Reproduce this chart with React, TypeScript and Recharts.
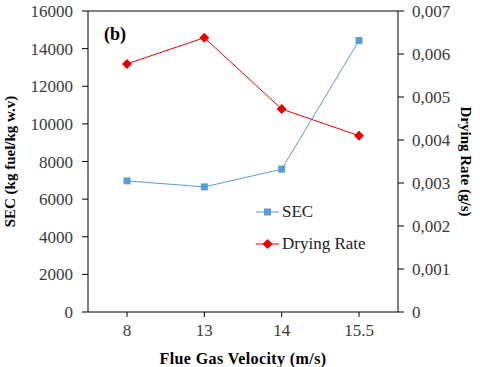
import { Line, LineChart, ReferenceLine, XAxis, YAxis } from "recharts";

const velocities = ["8", "13", "14", "15.5"];
const secValues = [6970, 6650, 7590, 14430];
const dryingRates = [0.00577, 0.00638, 0.00472, 0.0041];
const secTicks = [0, 2000, 4000, 6000, 8000, 10000, 12000, 14000, 16000];
const rateTicks = [0, 0.001, 0.002, 0.003, 0.004, 0.005, 0.006, 0.007];

const data = velocities.map((v, i) => ({ v, sec: secValues[i], rate: dryingRates[i] }));

const FONT = "Liberation Serif";
const BLUE = "#5b9bd5";
const RED = "#e60000";
const TICK = { fill: "#3a3a3a", fontSize: 17, fontFamily: FONT };

const Square = (props: any) => {
  const { cx, cy } = props;
  return <rect x={cx - 3.5} y={cy - 3.5} width={7} height={7} fill={BLUE} />;
};

const Diamond = (props: any) => {
  const { cx, cy } = props;
  return <path d={`M${cx},${cy - 5}L${cx + 5},${cy}L${cx},${cy + 5}L${cx - 5},${cy}Z`} fill={RED} />;
};

function LegendBox() {
  const rows = [
    { name: "SEC", color: BLUE, marker: <rect x={8} y={-3.5} width={7} height={7} fill={BLUE} /> },
    {
      name: "Drying Rate",
      color: RED,
      marker: <path d="M11.5,-5L16.5,0L11.5,5L6.5,0Z" fill={RED} />,
    },
  ];
  return (
    <div
      style={{
        position: "absolute",
        left: 256,
        top: 196,
        fontFamily: FONT,
        fontSize: 17,
        color: "#222",
      }}
    >
      {rows.map((r) => (
        <div key={r.name} style={{ display: "flex", alignItems: "center", height: 32 }}>
          <svg width={24} height={12} viewBox="0 -6 24 12" style={{ overflow: "visible" }}>
            <line x1={0} y1={0} x2={23} y2={0} stroke={r.color} strokeWidth={1} />
            {r.marker}
          </svg>
          <span style={{ marginLeft: 2 }}>{r.name}</span>
        </div>
      ))}
    </div>
  );
}

export default function App() {
  return (
    <div
      style={{
        position: "absolute",
        left: 0,
        top: 0,
        width: 480,
        height: 367,
        background: "#fff",
        fontFamily: FONT,
      }}
    >
      <LineChart width={480} height={367} data={data} margin={{ top: 11, right: 0, bottom: 0, left: 0 }}>
        <XAxis
          dataKey="v"
          stroke="#000"
          tickSize={5}
          tickMargin={7}
          padding={{ left: 39, right: 39 }}
          tick={TICK}
          height={55}
          label={{
            value: "Flue Gas Velocity (m/s)",
            position: "insideBottom",
            offset: 3,
            fill: "#000",
            fontSize: 16,
            fontWeight: "bold",
            fontFamily: FONT,
            letterSpacing: 0.4,
          }}
        />
        <YAxis
          yAxisId="left"
          domain={[0, 16000]}
          ticks={secTicks}
          interval={0}
          stroke="#000"
          tickSize={6}
          tickMargin={9}
          width={88}
          tick={TICK}
          label={{
            value: "SEC (kg fuel/kg w.v)",
            angle: -90,
            position: "insideLeft",
            offset: 10,
            style: { textAnchor: "middle" },
            fill: "#000",
            fontSize: 15,
            fontWeight: "bold",
            fontFamily: FONT,
          }}
        />
        <YAxis
          yAxisId="right"
          orientation="right"
          domain={[0, 0.007]}
          ticks={rateTicks}
          interval={0}
          stroke="#000"
          tickSize={6}
          tickMargin={8}
          width={82}
          tickFormatter={(t: number) => (t === 0 ? "0" : t.toFixed(3).replace(".", ","))}
          tick={TICK}
          label={{
            value: "Drying Rate (g/s)",
            angle: 90,
            position: "insideRight",
            offset: 14,
            style: { textAnchor: "middle" },
            fill: "#000",
            fontSize: 15,
            fontWeight: "bold",
            fontFamily: FONT,
          }}
        />
        <ReferenceLine yAxisId="left" y={16000} stroke="#000" />
        <Line
          yAxisId="left"
          dataKey="sec"
          name="SEC"
          stroke={BLUE}
          strokeWidth={1}
          dot={<Square />}
          activeDot={false}
          isAnimationActive={false}
        />
        <Line
          yAxisId="right"
          dataKey="rate"
          name="Drying Rate"
          stroke={RED}
          strokeWidth={1}
          dot={<Diamond />}
          activeDot={false}
          isAnimationActive={false}
        />
        <text x={104} y={40} fontFamily={FONT} fontSize={18} fontWeight="bold" fill="#000">
          (b)
        </text>
      </LineChart>
      <LegendBox />
    </div>
  );
}
